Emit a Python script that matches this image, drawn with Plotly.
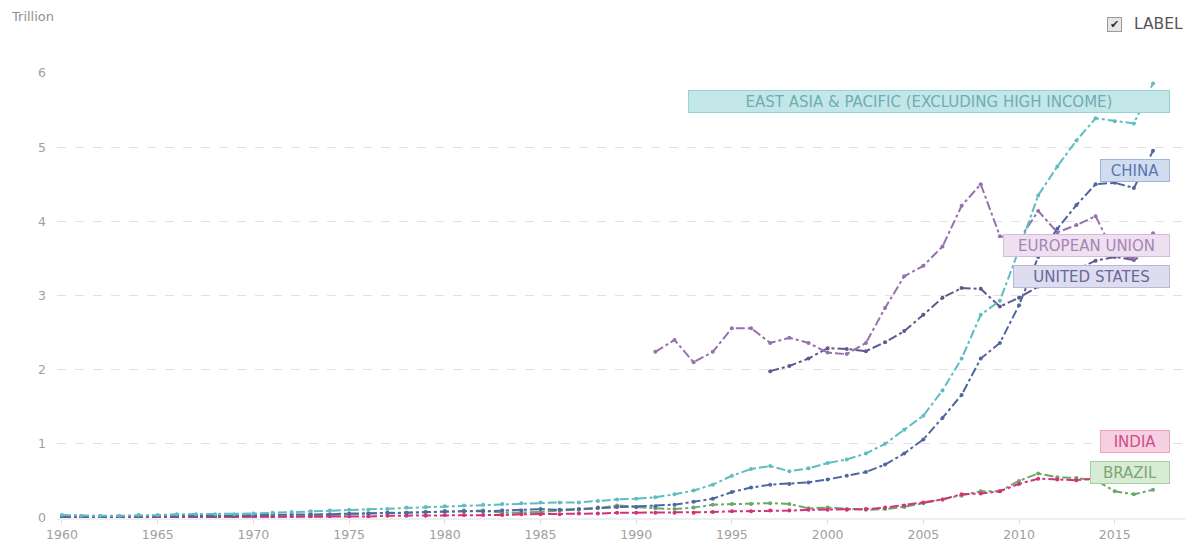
import plotly.graph_objects as go

# Industry value added, current US$ (trillions)
years = list(range(1960, 2018))
years_eu = list(range(1991, 2018))
years_us = list(range(1997, 2018))

east_asia = [0.04, 0.03, 0.03, 0.03, 0.04, 0.04, 0.05, 0.05, 0.05, 0.05,
             0.06, 0.07, 0.08, 0.09, 0.10, 0.11, 0.11, 0.12, 0.14, 0.15,
             0.16, 0.17, 0.18, 0.19, 0.20, 0.21, 0.21, 0.21, 0.23, 0.25,
             0.26, 0.28, 0.32, 0.37, 0.45, 0.57, 0.66, 0.70, 0.63, 0.67,
             0.74, 0.79, 0.87, 1.00, 1.19, 1.38, 1.72, 2.15, 2.74, 2.93,
             3.62, 4.35, 4.74, 5.09, 5.39, 5.35, 5.32, 5.86]
china = [0.02, 0.01, 0.01, 0.02, 0.02, 0.03, 0.03, 0.03, 0.03, 0.03,
         0.04, 0.04, 0.05, 0.05, 0.05, 0.06, 0.06, 0.07, 0.07, 0.08,
         0.09, 0.09, 0.09, 0.10, 0.10, 0.12, 0.11, 0.12, 0.14, 0.15,
         0.15, 0.16, 0.18, 0.22, 0.26, 0.35, 0.41, 0.45, 0.46, 0.48,
         0.52, 0.57, 0.62, 0.72, 0.87, 1.06, 1.35, 1.66, 2.15, 2.36,
         2.87, 3.52, 3.90, 4.22, 4.50, 4.52, 4.45, 4.95]
india = [0.01, 0.01, 0.01, 0.01, 0.01, 0.01, 0.01, 0.01, 0.01, 0.01,
         0.01, 0.01, 0.02, 0.02, 0.02, 0.02, 0.02, 0.03, 0.03, 0.03,
         0.04, 0.04, 0.04, 0.04, 0.05, 0.05, 0.05, 0.06, 0.06, 0.07,
         0.07, 0.07, 0.07, 0.07, 0.08, 0.09, 0.09, 0.10, 0.10, 0.11,
         0.11, 0.11, 0.12, 0.14, 0.17, 0.21, 0.25, 0.32, 0.33, 0.36,
         0.46, 0.53, 0.52, 0.51, 0.53, 0.55, 0.58, 0.65]
brazil = [0.01, 0.01, 0.01, 0.01, 0.01, 0.01, 0.01, 0.01, 0.01, 0.01,
          0.02, 0.02, 0.02, 0.03, 0.04, 0.05, 0.06, 0.07, 0.07, 0.08,
          0.09, 0.10, 0.10, 0.07, 0.07, 0.08, 0.10, 0.11, 0.13, 0.17,
          0.15, 0.13, 0.12, 0.14, 0.18, 0.19, 0.19, 0.20, 0.19, 0.13,
          0.14, 0.12, 0.11, 0.12, 0.15, 0.20, 0.25, 0.30, 0.36, 0.36,
          0.50, 0.60, 0.55, 0.54, 0.51, 0.36, 0.32, 0.38]
european_union = [2.24, 2.40, 2.10, 2.24, 2.56, 2.56, 2.36, 2.43, 2.36, 2.23,
                  2.21, 2.36, 2.83, 3.26, 3.40, 3.66, 4.21, 4.50, 3.80, 3.75,
                  4.14, 3.85, 3.95, 4.07, 3.55, 3.50, 3.84]
united_states = [1.98, 2.05, 2.15, 2.29, 2.28, 2.25, 2.37, 2.52, 2.74, 2.97,
                 3.10, 3.09, 2.85, 2.97, 3.12, 3.25, 3.35, 3.47, 3.52, 3.48,
                 3.62]

series = [
    ("BRAZIL", years, brazil, "#6aa86a", "#d8ebd5", "#a6d0a2", "#78a874", 72),
    ("INDIA", years, india, "#d4317a", "#f6d0e1", "#eaa3c3", "#d04d88", 62),
    ("UNITED STATES", years_us, united_states, "#5e5b8c", "#dedcef", "#bab7d8", "#6a689a", 149),
    ("EUROPEAN UNION", years_eu, european_union, "#9572ad", "#eee0f1", "#d3bbdb", "#a884b6", 159),
    ("CHINA", years, china, "#4f66a0", "#d0ddf0", "#a0b5d8", "#5d76ae", 62),
    ("EAST ASIA & PACIFIC (EXCLUDING HIGH INCOME)", years, east_asia,
     "#5fbcc0", "#c3e7e8", "#96d3d6", "#6eaeb2", 474),
]

# vertical centre of each label box, in data units
label_y = {
    "EAST ASIA & PACIFIC (EXCLUDING HIGH INCOME)": 5.61,
    "CHINA": 4.68,
    "EUROPEAN UNION": 3.68,
    "UNITED STATES": 3.26,
    "INDIA": 1.03,
    "BRAZIL": 0.61,
}

FONT = "DejaVu Sans"

fig = go.Figure()
annotations = []
for name, xs, ys, line_c, fill_c, border_c, text_c, w in series:
    fig.add_trace(go.Scatter(
        x=xs, y=ys, mode="lines+markers", name=name,
        line=dict(color=line_c, width=2, dash="dashdot"),
        marker=dict(color=line_c, size=4),
        showlegend=False, hoverinfo="x+y+name",
    ))
    annotations.append(dict(
        xref="paper", yref="y", x=0.987, y=label_y[name],
        xanchor="right", yanchor="middle", showarrow=False,
        text=name, width=w, height=15, align="center",
        font=dict(family=FONT, size=15, color=text_c),
        bgcolor=fill_c, bordercolor=border_c, borderwidth=1, borderpad=3,
    ))

annotations.append(dict(
    xref="paper", yref="paper", x=-0.0425, y=1.126, xanchor="left", yanchor="middle",
    showarrow=False, text="Trillion",
    font=dict(family=FONT, size=13, color="#909090"),
))
annotations.append(dict(
    xref="paper", yref="paper", x=1.0, y=1.11, xanchor="right", yanchor="middle",
    showarrow=False, text="LABEL",
    font=dict(family=FONT, size=15.5, color="#555555"),
))
annotations.append(dict(
    xref="paper", yref="paper", x=0.944, y=1.11, xanchor="right", yanchor="middle",
    showarrow=False, text="✔", width=13, height=13,
    font=dict(family=FONT, size=11, color="#333333"),
    bgcolor="#e6e6e6", bordercolor="#9a9a9a", borderwidth=1, borderpad=0,
))

fig.update_layout(
    width=1195, height=545,
    margin=dict(l=57, r=10, t=73, b=27, autoexpand=False),
    paper_bgcolor="white", plot_bgcolor="white",
    font=dict(family=FONT, size=12, color="#9a9a9a"),
    annotations=annotations,
    hovermode="closest",
    xaxis=dict(
        range=[1959.74, 2018.67], tickmode="array",
        tickvals=list(range(1960, 2016, 5)),
        ticktext=[str(v) for v in range(1960, 2016, 5)],
        showgrid=False, zeroline=False, automargin=False,
        showline=True, linecolor="#eeeeee", linewidth=2,
        ticks="outside", ticklen=4, tickcolor="#dddddd",
        tickfont=dict(family=FONT, size=12.5, color="#a0a0a0"),
    ),
    yaxis=dict(
        range=[0, 6.0], tickvals=[0, 1, 2, 3, 4, 5, 6],
        showgrid=True, gridcolor="#e2e2e2", griddash="dash", gridwidth=1,
        zeroline=False, showline=False, automargin=False,
        ticklabelstandoff=10,
        tickfont=dict(family=FONT, size=12.5, color="#a0a0a0"),
    ),
)

fig.write_html("out.html")
